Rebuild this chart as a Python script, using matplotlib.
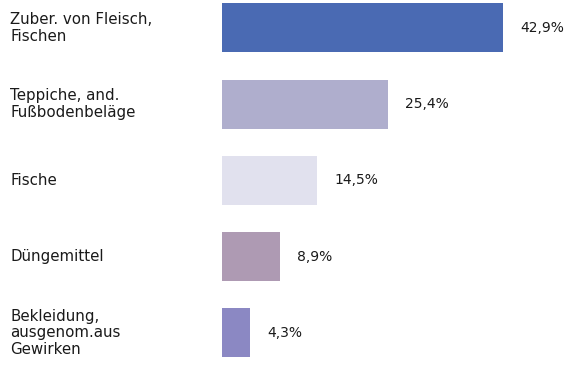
import matplotlib
matplotlib.use("Agg")
import matplotlib.pyplot as plt
import matplotlib.transforms as mtransforms

categories = [
    "Zuber. von Fleisch,\nFischen",
    "Teppiche, and.\nFußbodenbeläge",
    "Fische",
    "Düngemittel",
    "Bekleidung,\nausgenom.aus\nGewirken",
]
shares = [42.9, 25.4, 14.5, 8.9, 4.3]
bar_colors = ["#4a6ab3", "#afaecd", "#e1e1ee", "#ae9ab3", "#8b88c3"]

W, H = 573, 366
fig = plt.figure(figsize=(W / 100, H / 100), dpi=100)
ax = fig.add_axes([222 / W, 0, 327.5 / W, 1])

pos = list(range(len(categories)))
ax.barh(pos, shares, height=0.643, color=bar_colors)
ax.set_xlim(0, 50)
ax.set_ylim(4.433, -0.367)
ax.axis("off")

for y, v in zip(pos, shares):
    ax.text(v + 2.6, y, f"{v:.1f}%".replace(".", ","), va="center", ha="left",
            fontsize=10, color="#1a1a1a")

trans = mtransforms.blended_transform_factory(fig.transFigure, ax.transData)
for y, lab in zip(pos, categories):
    ax.text(10 / W, y, lab, transform=trans, va="center", ha="left",
            fontsize=10.8, color="#1a1a1a", linespacing=1.15)

fig.savefig("out.png", dpi=100, facecolor="white")
